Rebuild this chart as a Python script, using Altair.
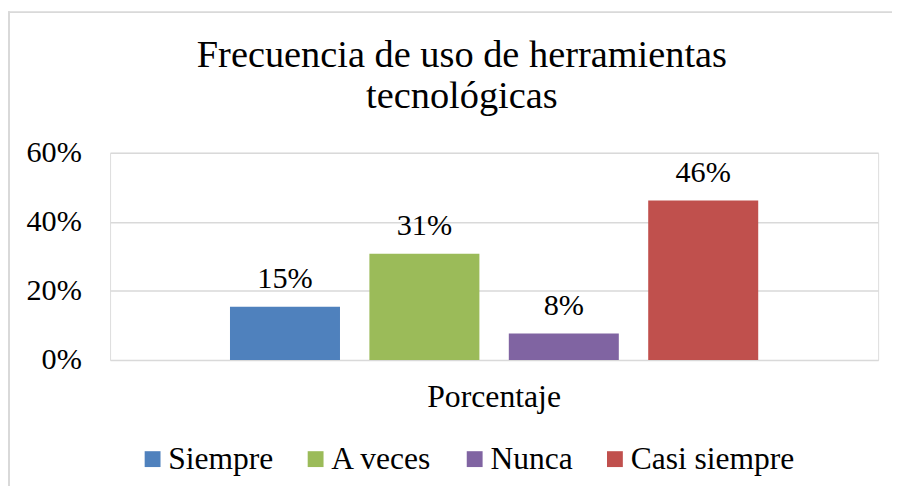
import altair as alt
import pandas as pd

categoria = ["Porcentaje"] * 4
series = ["Siempre", "A veces", "Nunca", "Casi siempre"]
valores = [0.154, 0.308, 0.077, 0.462]
colores = ["#4F81BD", "#9BBB59", "#8064A2", "#C0504D"]
titulo = ["Frecuencia de uso de herramientas\ntecnológicas"]

df = pd.DataFrame({"cat": categoria, "serie": series, "valor": valores})
df_t = pd.DataFrame({"t": titulo})

FONT = "Liberation Serif"
W, H = 775, 209

x_enc = alt.X("cat:N", title=None,
              scale=alt.Scale(paddingInner=0, paddingOuter=0.227),
              axis=alt.Axis(labelAngle=0, labelFont=FONT, labelFontSize=32,
                            labelColor="#000000", labelPadding=22, ticks=False,
                            domain=False, grid=False))
xoff = alt.XOffset("serie:N", sort=series,
                   scale=alt.Scale(paddingInner=0.2109, paddingOuter=0))
y_enc = alt.Y("valor:Q", title=None,
              scale=alt.Scale(domain=[0, 0.6]),
              axis=alt.Axis(format=".0%", values=[0, 0.2, 0.4, 0.6],
                            labelFont=FONT, labelFontSize=30.5, labelColor="#000000",
                            labelPadding=29, ticks=False, domain=False,
                            grid=True, gridColor="#d9d9d9", gridWidth=1.5))

bars = alt.Chart(df).mark_bar().encode(
    x=x_enc, xOffset=xoff, y=y_enc,
    color=alt.Color("serie:N", sort=series,
                    scale=alt.Scale(domain=series, range=colores),
                    legend=alt.Legend(title=None, orient="none", direction="horizontal",
                                      legendX=27, legendY=293,
                                      labelFont=FONT, labelFontSize=31.8,
                                      labelColor="#000000", symbolType="square",
                                      symbolSize=256, symbolStrokeWidth=0,
                                      labelOffset=0, columnPadding=26.5,
                                      labelLimit=400))
)

labels = alt.Chart(df).mark_text(font=FONT, fontSize=30.5, color="#000000",
                                 baseline="alphabetic", dy=-19).encode(
    x=alt.X("cat:N"), xOffset=alt.XOffset("serie:N", sort=series),
    y=alt.Y("valor:Q"), text=alt.Text("valor:Q", format=".0%")
)

title_mark = alt.Chart(df_t).mark_text(font=FONT, fontSize=38.7, color="#000000",
                                       align="center", baseline="alphabetic",
                                       lineBreak="\n", lineHeight=41.5).encode(
    x=alt.value(355), y=alt.value(-87), text="t:N"
)

frame_left = alt.Chart(df_t).mark_rule(color="#d9d9d9", strokeWidth=2).encode(
    x=alt.value(-102), y=alt.value(-143), y2=alt.value(H + 200))
frame_top = alt.Chart(df_t).mark_rule(color="#d9d9d9", strokeWidth=2).encode(
    x=alt.value(-103), x2=alt.value(W + 40), y=alt.value(-142))

chart = alt.layer(frame_left, frame_top, bars, labels, title_mark).properties(
    width=W, height=H,
    autosize=alt.AutoSizeParams(type="none"),
    padding={"left": 103, "top": 144, "right": 14, "bottom": 125},
).configure_view(stroke=None).configure(background="#ffffff")

chart.save("out.html", embed_options={"renderer": "svg", "actions": False})
